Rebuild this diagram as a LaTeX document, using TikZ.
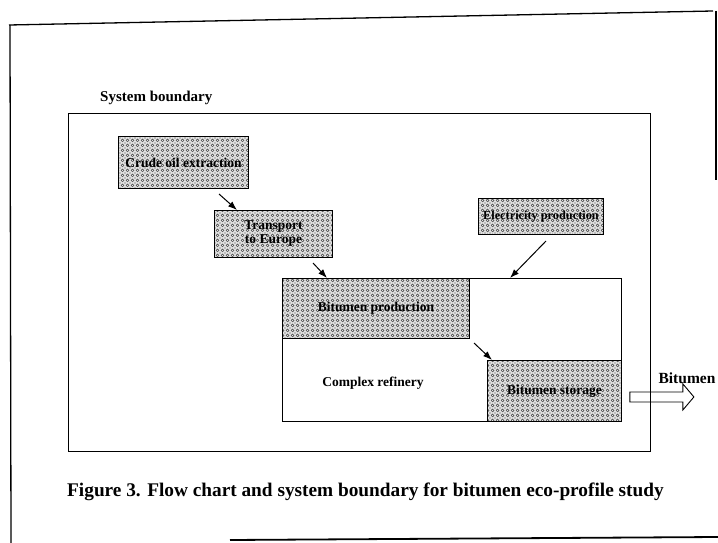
\documentclass[tikz,border=0pt]{standalone}
\usepackage{fontspec}
\setmainfont{Liberation Serif}
\usetikzlibrary{patterns,arrows.meta,calc}
\pgfdeclarepatternformonly{rings}{\pgfqpoint{-1pt}{-1pt}}{\pgfqpoint{6pt}{6pt}}{\pgfqpoint{5pt}{5pt}}{%
  \pgfsetlinewidth{0.5pt}%
  \pgfpathcircle{\pgfqpoint{2.5pt}{2.5pt}}{1.4pt}%
  \pgfusepath{stroke}%
  \pgfpathcircle{\pgfqpoint{0pt}{0pt}}{0.6pt}%
  \pgfusepath{fill}%
}
\tikzset{
  box/.style={draw=black, line width=0.9pt, preaction={fill=gray!22}, pattern=rings, pattern color=gray!50!black,
    inner sep=1pt, anchor=north west, align=center, font=\fontsize{13.5}{14}\selectfont\bfseries},
  plain/.style={draw=black, line width=0.9pt, anchor=north west, inner sep=0pt},
  arr/.style={line width=1pt, -{Latex[length=9pt,width=6.5pt]}},
  frame/.style={line width=1.3pt, black},
  lbl/.style={inner sep=0pt, font=\fontsize{13.5}{15}\selectfont\bfseries}
}
\begin{document}
\begin{tikzpicture}[x=1pt,y=-1pt]
\useasboundingbox (0,0) rectangle (718,543);
% outer frame (scan)
\draw[frame] (9,25) -- (713,11);
\draw[frame] (10,25) -- (11,543);
\draw[frame] (716,11) -- (716,180);
\draw[frame, line width=1.8pt] (230,540) -- (718,537);
% system boundary
\node[plain, minimum width=582pt, minimum height=338pt] (sb) at (68,113) {};
\node[lbl, anchor=west, font=\fontsize{15}{16}\selectfont\bfseries] (sbl) at (100,98) {System boundary};
% refinery
\node[plain, minimum width=339pt, minimum height=143pt] (ref) at (282,278) {};
\node[lbl] (refl) at (373,383) {Complex refinery};
% boxes
\node[box, minimum width=130pt, minimum height=52pt] (crude) at (118,136) {Crude oil extraction};
\node[box, minimum width=118pt, minimum height=47pt] (trans) at (214,210) {Transport\\to Europe};
\node[box, minimum width=125pt, minimum height=36pt, font=\fontsize{12.3}{14}\selectfont\bfseries] (elec) at (478,198) {Electricity production};
\node[box, minimum width=187pt, minimum height=60pt] (bprod) at (282,278) {Bitumen production};
\node[box, minimum width=134pt, minimum height=61pt] (stor) at (487,360) {Bitumen storage};
% arrows
\coordinate (t1) at (219,194);
\coordinate (t2) at (313,263);
\coordinate (t3) at (546,241);
\coordinate (t4) at (474,343);
\draw[arr] (t1) -- ($(trans.north west)+(23,0)$);
\draw[arr] (t2) -- ($(bprod.north west)+(45,0)$);
\draw[arr] (t3) -- ($(ref.north west)+(228,0)$);
\draw[arr] (t4) -- ($(stor.north west)+(5,0)$);
% output arrow
\coordinate (o) at ($(stor.east)+(8,0)$);
\draw[line width=0.9pt, fill=white]
  ($(o)+(0,1)$) -- ++(53,0) -- ++(0,-8) -- ++(11,13) -- ++(-11,13) -- ++(0,-8) -- ++(-53,0) -- cycle;
\draw[line width=0.9pt] ($(sb.north east)+(0,260)$) -- ($(sb.north east)+(0,300)$);
\node[lbl, font=\fontsize{15.5}{16}\selectfont\bfseries] (out) at (687,378) {Bitumen};
% caption
\node[inner sep=0pt, anchor=west, font=\fontsize{19.3}{22}\selectfont\bfseries] (cap) at (67,492)
  {Figure 3. Flow chart and system boundary for bitumen eco-profile study};
\end{tikzpicture}
\end{document}
